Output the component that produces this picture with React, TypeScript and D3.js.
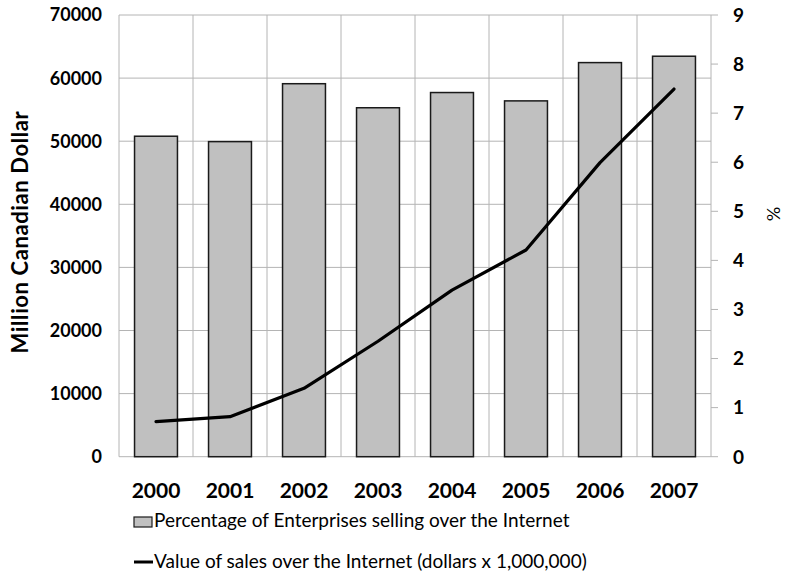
import React from "react";
import * as d3 from "d3";

const years = ["2000", "2001", "2002", "2003", "2004", "2005", "2006", "2007"];
const percentEnterprises = [6.53, 6.42, 7.6, 7.11, 7.42, 7.25, 8.03, 8.16];
const salesValue = [5550, 6340, 10840, 18300, 26400, 32760, 46600, 58270];
const leftTicks = [0, 10000, 20000, 30000, 40000, 50000, 60000, 70000];
const rightTicks = [0, 1, 2, 3, 4, 5, 6, 7, 8, 9];
const legendLabels = [
  "Percentage of Enterprises selling over the Internet",
  "Value of sales over the Internet (dollars x 1,000,000)",
];

const W = 787;
const H = 575;
const plot = { left: 119, right: 711, top: 15, bottom: 456.7 };
const FONT = "Lato, 'Open Sans', sans-serif";
const GRID = "#b4b4b4";

export default function App() {
  const x = d3.scaleBand<string>().domain(years).range([plot.left, plot.right]).padding(0);
  const yL = d3.scaleLinear().domain([0, 70000]).range([plot.bottom, plot.top]);
  const yR = d3.scaleLinear().domain([0, 9]).range([plot.bottom, plot.top]);
  const bw = x.bandwidth() * 0.58;

  const line = d3
    .line<number>()
    .x((_, i) => (x(years[i]) as number) + x.bandwidth() / 2)
    .y((d) => yL(d));

  return (
    <svg
      width={W}
      height={H}
      style={{ position: "absolute", left: 0, top: 0, background: "#fff" }}
      fontFamily={FONT}
    >
      <rect x={0} y={0} width={W} height={H} fill="#fff" />
      {/* horizontal gridlines */}
      {leftTicks.map((t) => (
        <line key={"h" + t} x1={plot.left} x2={plot.right} y1={yL(t)} y2={yL(t)} stroke={GRID} strokeWidth={1} />
      ))}
      {/* vertical gridlines at category boundaries */}
      {years.map((yv) => (
        <line
          key={"v" + yv}
          x1={x(yv) as number}
          x2={x(yv) as number}
          y1={plot.top}
          y2={plot.bottom}
          stroke={GRID}
          strokeWidth={1}
        />
      ))}
      <line x1={plot.right} x2={plot.right} y1={plot.top} y2={plot.bottom} stroke={GRID} strokeWidth={1} />
      {/* right axis tick marks */}
      {rightTicks.map((t) => (
        <line key={"rt" + t} x1={plot.right} x2={plot.right + 7} y1={yR(t)} y2={yR(t)} stroke={GRID} strokeWidth={1} />
      ))}
      {/* bars */}
      {years.map((yv, i) => {
        const cx = (x(yv) as number) + x.bandwidth() / 2;
        return (
          <rect
            key={"b" + yv}
            x={cx - bw / 2}
            y={yR(percentEnterprises[i])}
            width={bw}
            height={plot.bottom - yR(percentEnterprises[i])}
            fill="#c0c0c0"
            stroke="#1a1a1a"
            strokeWidth={1.5}
          />
        );
      })}
      {/* line */}
      <path d={line(salesValue) || ""} fill="none" stroke="#000" strokeWidth={3.2} strokeLinejoin="round" strokeLinecap="round" />
      {/* left tick labels */}
      {leftTicks.map((t) => (
        <text key={"lt" + t} x={102} y={yL(t)} dy="0.36em" textAnchor="end" fontSize={18} fontWeight="bold" fill="#000">
          {t}
        </text>
      ))}
      {/* right tick labels */}
      {rightTicks.map((t) => (
        <text key={"rl" + t} x={733} y={yR(t)} dy="0.36em" textAnchor="start" fontSize={19} fontWeight="bold" fill="#000">
          {t}
        </text>
      ))}
      {/* x labels */}
      {years.map((yv) => (
        <text
          key={"xl" + yv}
          x={(x(yv) as number) + x.bandwidth() / 2}
          y={498}
          textAnchor="middle"
          fontSize={21}
          fontWeight="bold"
          fill="#000"
        >
          {yv}
        </text>
      ))}
      {/* axis titles */}
      <text
        transform={`translate(28,232) rotate(-90)`}
        textAnchor="middle"
        fontSize={22}
        fontWeight="bold"
        letterSpacing={0.6}
        fill="#000"
      >
        Million Canadian Dollar
      </text>
      <text transform={`translate(767,214) rotate(90)`} textAnchor="middle" fontSize={18} fill="#000">
        %
      </text>
      {/* legend */}
      <rect x={134} y={517} width={18} height={10} fill="#c0c0c0" stroke="#1a1a1a" strokeWidth={1.2} />
      <text x={154} y={527} fontSize={19} fill="#000">
        {legendLabels[0]}
      </text>
      <line x1={134} x2={153} y1={562} y2={562} stroke="#000" strokeWidth={3} />
      <text x={154} y={568} fontSize={19} fill="#000">
        {legendLabels[1]}
      </text>
    </svg>
  );
}
